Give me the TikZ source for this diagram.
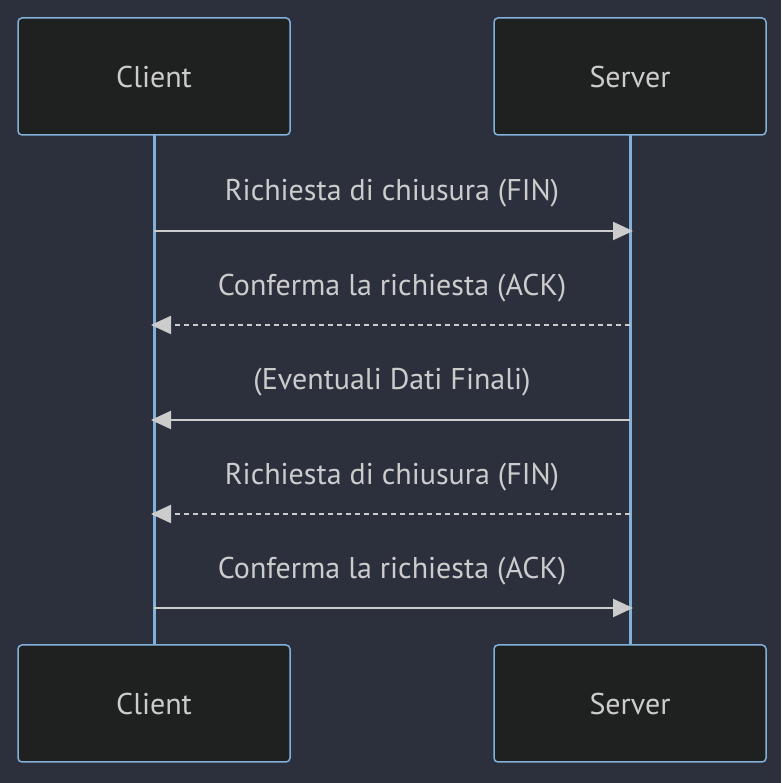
\documentclass[tikz,border=0pt]{standalone}
\usepackage{fontspec}
\setmainfont{PT Sans}
\usetikzlibrary{arrows.meta}
\definecolor{bg}{RGB}{44,48,61}
\definecolor{boxfill}{RGB}{31,32,32}
\definecolor{boxline}{RGB}{129,177,219}
\definecolor{msg}{RGB}{204,204,204}
\begin{document}
\begin{tikzpicture}[x=1pt,y=1pt,
  actor/.style={draw=boxline, line width=1.5pt, fill=boxfill, rounded corners=4pt,
    minimum width=272pt, minimum height=117pt, inner sep=0pt,
    text height=23pt, text depth=0pt,
    text=msg, font=\fontsize{30}{34}\selectfont},
  lifeline/.style={draw=boxline, line width=3pt},
  message/.style={draw=msg, line width=2.2pt, -{Triangle[length=20pt,width=18pt]}},
  reply/.style={message, dash pattern=on 5pt off 4pt},
  mlabel/.style={text=msg, font=\fontsize{30}{34}\selectfont, inner sep=0pt}]
\fill[bg] (0,0) rectangle (781,783);
\useasboundingbox (0,0) rectangle (781,783);
% lifelines
\coordinate (cT) at (154,648);
\coordinate (cB) at (154,138);
\coordinate (sT) at (630,648);
\coordinate (sB) at (630,138);
\draw[lifeline] (cT) -- (cB);
\draw[lifeline] (sT) -- (sB);
% actors
\node[actor] (c1) at (154,706.5) {Client};
\node[actor] (s1) at (630,706.5) {Server};
\node[actor] (c2) at (154,79.5) {Client};
\node[actor] (s2) at (630,79.5) {Server};
% message anchors
\coordinate (c1m) at (154,552);
\coordinate (s1m) at (633,552);
\coordinate (s2m) at (630,458);
\coordinate (c2m) at (151,458);
\coordinate (s3m) at (630,363);
\coordinate (c3m) at (151,363);
\coordinate (s4m) at (630,269);
\coordinate (c4m) at (151,269);
\coordinate (c5m) at (154,175);
\coordinate (s5m) at (633,175);
\draw[message] (c1m) -- (s1m);
\draw[reply] (s2m) -- (c2m);
\draw[message] (s3m) -- (c3m);
\draw[reply] (s4m) -- (c4m);
\draw[message] (c5m) -- (s5m);
\node[mlabel] (l1) at (392,590) {Richiesta di chiusura (FIN)};
\node[mlabel] (l2) at (392,495) {Conferma la richiesta (ACK)};
\node[mlabel] (l3) at (392,401) {(Eventuali Dati Finali)};
\node[mlabel] (l4) at (392,306) {Richiesta di chiusura (FIN)};
\node[mlabel] (l5) at (392,212) {Conferma la richiesta (ACK)};
\end{tikzpicture}
\end{document}
